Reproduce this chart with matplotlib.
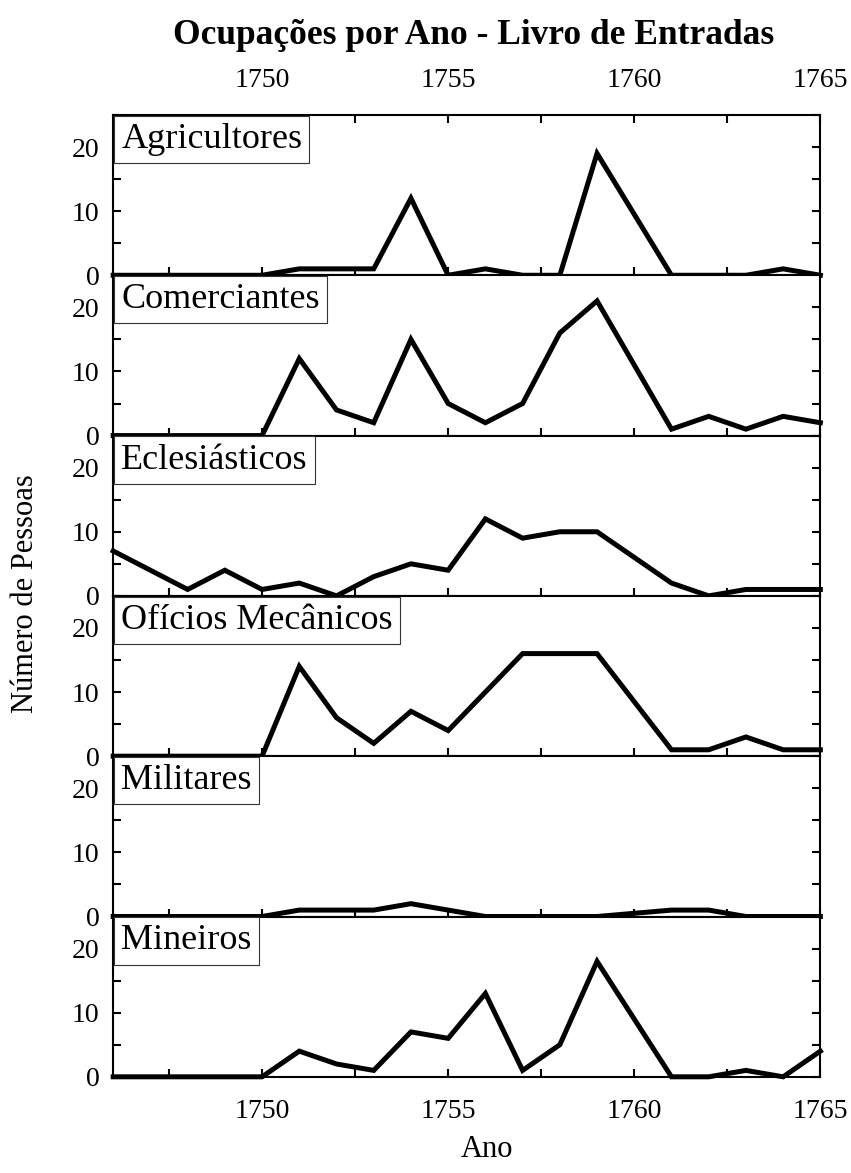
import matplotlib
matplotlib.use("Agg")
import matplotlib.pyplot as plt
import numpy as np
from matplotlib.offsetbox import AnchoredText
from matplotlib.ticker import MultipleLocator

plt.rcParams["font.family"] = ["Liberation Serif", "DejaVu Serif"]

# years with entries (no record for 1760)
years = [1746, 1747, 1748, 1749, 1750, 1751, 1752, 1753, 1754, 1755,
         1756, 1757, 1758, 1759, 1761, 1762, 1763, 1764, 1765]

occupations = ["Agricultores", "Comerciantes", "Eclesiásticos",
               "Ofícios Mecânicos", "Militares", "Mineiros"]

agricultores = [0, 0, 0, 0, 0, 1, 1, 1, 12, 0, 1, 0, 0, 19, 0, 0, 0, 1, 0]
comerciantes = [0, 0, 0, 0, 0, 12, 4, 2, 15, 5, 2, 5, 16, 21, 1, 3, 1, 3, 2]
eclesiasticos = [7, 4, 1, 4, 1, 2, 0, 3, 5, 4, 12, 9, 10, 10, 2, 0, 1, 1, 1]
oficios = [0, 0, 0, 0, 0, 14, 6, 2, 7, 4, 10, 16, 16, 16, 1, 1, 3, 1, 1]
militares = [0, 0, 0, 0, 0, 1, 1, 1, 2, 1, 0, 0, 0, 0, 1, 1, 0, 0, 0]
mineiros = [0, 0, 0, 0, 0, 4, 2, 1, 7, 6, 13, 1, 5, 18, 0, 0, 1, 0, 4]

series = [agricultores, comerciantes, eclesiasticos, oficios, militares, mineiros]

fig, axes = plt.subplots(6, 1, sharex=True, figsize=(8.51, 11.73), dpi=100)
fig.subplots_adjust(left=0.133, right=0.964, top=0.902, bottom=0.082, hspace=0)

for i, (ax, name, values) in enumerate(zip(axes, occupations, series)):
    ax.plot(years, values, color="black", lw=3.6, solid_joinstyle="miter",
            clip_on=False, zorder=3)
    ax.set_xlim(1746, 1765)
    ax.set_ylim(0, 25)
    ax.xaxis.set_major_locator(MultipleLocator(5))
    ax.xaxis.set_minor_locator(MultipleLocator(2.5))
    ax.yaxis.set_major_locator(MultipleLocator(10))
    ax.yaxis.set_minor_locator(MultipleLocator(5))
    ax.tick_params(which="both", direction="in", length=6, width=1.5,
                   right=True, top=(i == 0), labelsize=20)
    ax.tick_params(axis="x", labeltop=(i == 0), labelbottom=(i == 5), pad=16)
    ax.tick_params(axis="y", pad=10)
    for sp in ax.spines.values():
        sp.set_linewidth(1.5)

    box = AnchoredText(name, loc="upper left", pad=0.2, borderpad=0.02,
                       frameon=True, prop=dict(size=26))
    box.patch.set_boxstyle("square,pad=0")
    box.patch.set_linewidth(0.8)
    box.patch.set_edgecolor("#333333")
    box.zorder = 5
    ax.add_artist(box)

fig.suptitle("Ocupações por Ano - Livro de Entradas", fontsize=25.5,
             fontweight="bold", x=0.557, y=0.984)
fig.text(0.03, 0.494, "Número de Pessoas", rotation=90, fontsize=22,
         ha="center", va="center")
fig.text(0.572, 0.02, "Ano", fontsize=22, ha="center", va="center")

fig.savefig("out.png", dpi=100)
